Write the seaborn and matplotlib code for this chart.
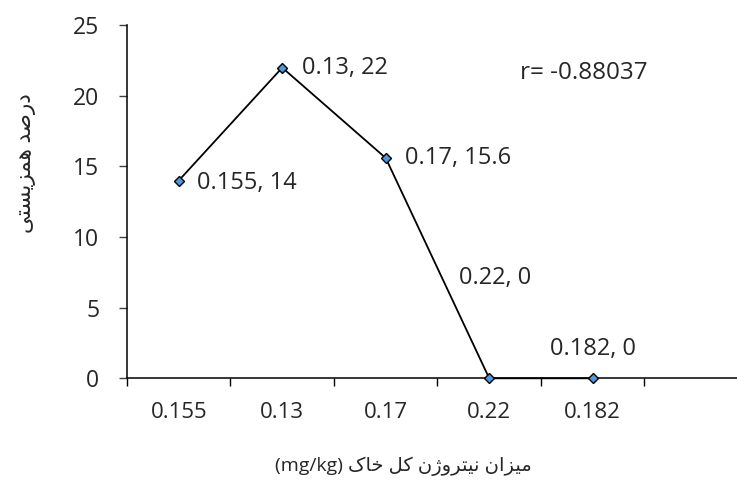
import numpy as np
import pandas as pd
import seaborn as sns
import matplotlib.pyplot as plt

# data
nitrogen = ['0.155', '0.13', '0.17', '0.22', '0.182']
symbiosis = [14, 22, 15.6, 0, 0]
r_text = 'r= -0.88037'

# Persian labels, written in visual order with Arabic presentation forms
# (matplotlib does no shaping / bidi on its own)
# "درصد همزیستی"
ylab = '\uFBFD\uFE98\uFEB4\uFBFE\uFEB0\uFEE4\uFEEB \uFEAA\uFEBB\uFEAD\uFEA9'
# "میزان نیتروژن کل خاک (mg/kg)"
xlab = ('(mg/kg) \uFB8E\uFE8E\uFEA7 \uFEDE\uFB90 '
        '\uFEE5\uFB8A\uFEED\uFEAE\uFE98\uFBFF\uFEE7 \uFEE5\uFE8D\uFEB0\uFBFF\uFEE3')

df = pd.DataFrame({'n': nitrogen, 'pct': symbiosis})

sns.set_style('ticks')
plt.rcParams['font.family'] = ['Open Sans', 'DejaVu Sans']

fig = plt.figure(figsize=(7.37, 4.88), dpi=100)
ax = fig.add_axes([0.1723, 0.2248, 0.8426, 0.7234])

sns.lineplot(data=df, x='n', y='pct', sort=False, color='black', lw=1.3,
             marker='D', markersize=4.6, markerfacecolor='#4A98E0',
             markeredgecolor='black', markeredgewidth=1, ax=ax)
for ln in ax.lines:
    ln.set_clip_on(False)

# data labels (offsets in points)
offs = [(13, -2), (14, 0), (14, 0), (4, 72), (0, 21)]
for i, (n, v) in enumerate(zip(nitrogen, symbiosis)):
    ha = 'left' if i < 3 else 'center'
    ax.annotate(f'{n}, {v:g}', (i, v), xytext=offs[i], textcoords='offset points',
                ha=ha, va='center', fontsize=17)

ax.text(0.633, 0.865, r_text, transform=ax.transAxes, ha='left', va='center',
        fontsize=17.5)

ax.set_xlim(-0.5, 5.5)
ax.set_ylim(0, 25)
ax.set_yticks([0, 5, 10, 15, 20, 25])
ax.set_xticks(np.arange(-0.5, 5.0, 1.0))
ax.set_xticklabels([])
ax.set_xticks(range(len(nitrogen)), minor=True)
ax.set_xticklabels(nitrogen, minor=True)
ax.tick_params(axis='x', which='minor', length=0, pad=17, labelsize=16)
ax.tick_params(axis='x', which='major', length=6, width=1, color='black')
ax.tick_params(axis='y', length=6, width=1, color='#404040', pad=14, labelsize=16.5)
ax.set_xlabel('')
ax.set_ylabel('')

sns.despine(ax=ax)
for s in ['left', 'bottom']:
    ax.spines[s].set_color('black')
    ax.spines[s].set_linewidth(1.1)
ax.spines['bottom'].set_zorder(0)

fig.text(0.034, 0.666, ylab, rotation=90, ha='center', va='center', fontsize=15.5)
fig.text(0.547, 0.045, xlab, ha='center', va='center', fontsize=14)

plt.savefig('out.png', dpi=100)
